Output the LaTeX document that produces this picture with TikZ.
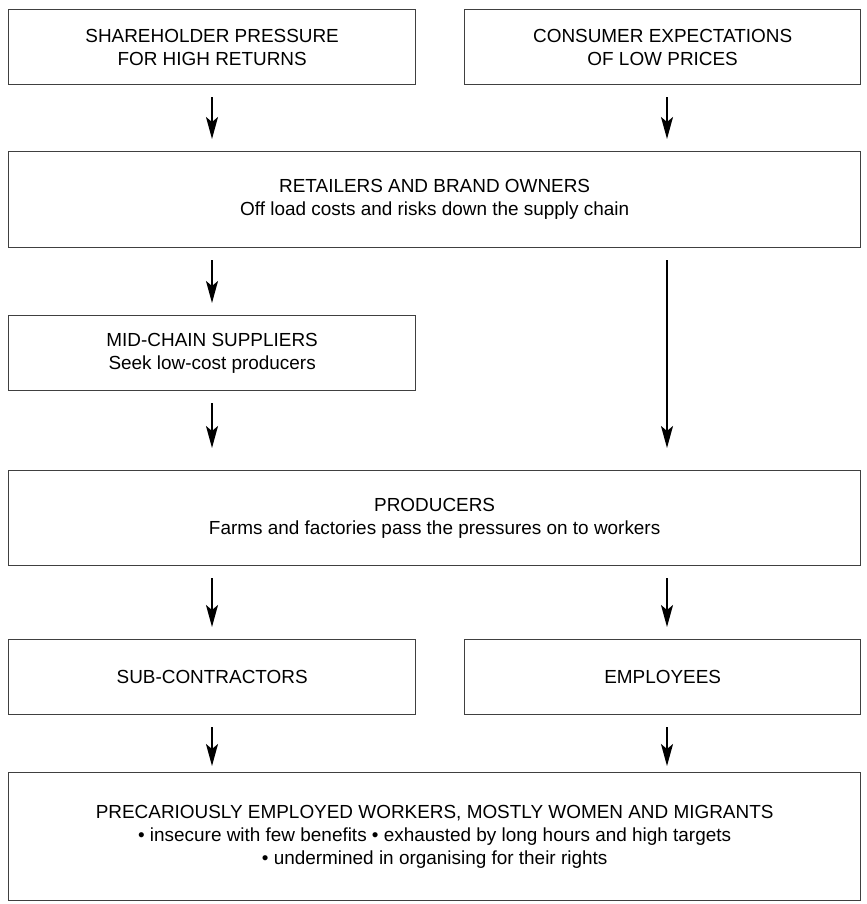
\documentclass[tikz,border=0pt]{standalone}
\usepackage{fontspec}
\setmainfont{Liberation Sans}
\usetikzlibrary{arrows.meta}
\begin{document}
\begin{tikzpicture}[x=1bp,y=-1bp,
  box/.style={draw=black!75, line width=1.3bp, align=center, inner sep=0pt, anchor=north west,
    font=\fontsize{19}{23}\selectfont},
  arr/.style={-{Stealth[length=22bp,width=12bp,inset=5bp]}, line width=1.7bp, shorten <=12bp, shorten >=12bp}]
\useasboundingbox (0,0) rectangle (867,904);
\coordinate (lc) at (212,0);
\coordinate (rc) at (667,0);
\node[box, minimum width=407bp, minimum height=75bp] (b1) at (8,9) {SHAREHOLDER PRESSURE\\FOR HIGH RETURNS};
\node[box, minimum width=396bp, minimum height=75bp] (b2) at (464,9) {CONSUMER EXPECTATIONS\\OF LOW PRICES};
\node[box, minimum width=852bp, minimum height=96bp] (ret) at (8,151) {RETAILERS AND BRAND OWNERS\\Off load costs and risks down the supply chain};
\node[box, minimum width=407bp, minimum height=75bp] (mid) at (8,315) {MID-CHAIN SUPPLIERS\\Seek low-cost producers};
\node[box, minimum width=852bp, minimum height=95bp] (prod) at (8,470) {PRODUCERS\\Farms and factories pass the pressures on to workers};
\node[box, minimum width=407bp, minimum height=75bp] (sub) at (8,639) {SUB-CONTRACTORS};
\node[box, minimum width=396bp, minimum height=75bp] (emp) at (464,639) {EMPLOYEES};
\node[box, minimum width=852bp, minimum height=128bp] (prec) at (8,772) {PRECARIOUSLY EMPLOYED WORKERS, MOSTLY WOMEN AND MIGRANTS\\
  \textbullet{} insecure with few benefits \textbullet{} exhausted by long hours and high targets\\
  \textbullet{} undermined in organising for their rights};
\draw[arr] (lc |- b1.south) -- (lc |- ret.north);
\draw[arr] (rc |- b2.south) -- (rc |- ret.north);
\draw[arr] (lc |- ret.south) -- (lc |- mid.north);
\draw[arr, shorten >=22bp] (rc |- ret.south) -- (rc |- prod.north);
\draw[arr, shorten >=22bp] (lc |- mid.south) -- (lc |- prod.north);
\draw[arr] (lc |- prod.south) -- (lc |- sub.north);
\draw[arr] (rc |- prod.south) -- (rc |- emp.north);
\draw[arr, shorten >=6bp] (lc |- sub.south) -- (lc |- prec.north);
\draw[arr, shorten >=6bp] (rc |- emp.south) -- (rc |- prec.north);
\end{tikzpicture}
\end{document}
